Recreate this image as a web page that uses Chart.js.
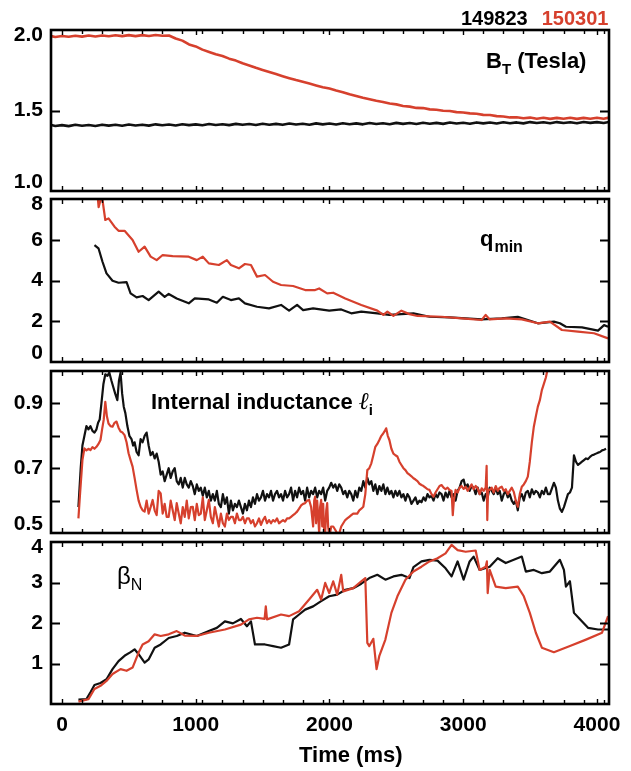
<!DOCTYPE html>
<html>
<head>
<meta charset="utf-8">
<script src="https://cdn.jsdelivr.net/npm/chart.js@4.4.1/dist/chart.umd.min.js"></script>
<style>
  body { margin: 0; background: #fff; }
  #wrap { position: relative; width: 631px; height: 771px; }
  canvas { position: absolute; left: 0; }
</style>
</head>
<body>
<div id="wrap">
  <canvas id="bt" width="631" height="211" style="top:0px"></canvas>
  <canvas id="qmin" width="631" height="203" style="top:179px"></canvas>
  <canvas id="li" width="631" height="202" style="top:351px"></canvas>
  <canvas id="beta" width="631" height="249" style="top:522px"></canvas>
</div>
<script>
const shots = ['149823', '150301'];
const xTickValues = [0, 1000, 2000, 3000, 4000];

// toroidal field
const btTime = [-80, -50, 0, 50, 100, 150, 200, 250, 300, 350, 400, 450, 500, 550, 600, 650, 700, 750, 800, 850, 900, 950, 1000,
  1050, 1100, 1150, 1200, 1250, 1300, 1350, 1400, 1450, 1500, 1550, 1600, 1650, 1700, 1750, 1800, 1850, 1900, 1950, 2000, 2050, 2100,
  2150, 2200, 2250, 2300, 2350, 2400, 2450, 2500, 2550, 2600, 2650, 2700, 2750, 2800, 2850, 2900, 2950, 3000, 3050, 3100, 3150, 3200,
  3250, 3300, 3350, 3400, 3450, 3500, 3550, 3600, 3650, 3700, 3750, 3800, 3850, 3900, 3950, 4000, 4050, 4090];
const bt149823 = [1.410, 1.404, 1.409, 1.403, 1.411, 1.405, 1.410, 1.404, 1.412, 1.406, 1.411, 1.405, 1.413, 1.407, 1.412, 1.406,
  1.414, 1.408, 1.413, 1.407, 1.415, 1.409, 1.414, 1.408, 1.416, 1.410, 1.415, 1.409, 1.417, 1.411, 1.416, 1.410, 1.418, 1.412, 1.417,
  1.411, 1.419, 1.413, 1.418, 1.412, 1.420, 1.414, 1.419, 1.413, 1.421, 1.415, 1.420, 1.414, 1.422, 1.416, 1.421, 1.415, 1.423, 1.417,
  1.422, 1.416, 1.424, 1.418, 1.423, 1.417, 1.425, 1.419, 1.424, 1.418, 1.426, 1.420, 1.425, 1.419, 1.427, 1.421, 1.426, 1.420, 1.428,
  1.422, 1.427, 1.421, 1.428, 1.422, 1.427, 1.421, 1.429, 1.423, 1.428, 1.422, 1.429];
const bt150301 = [1.962, 1.957, 1.963, 1.958, 1.964, 1.959, 1.966, 1.960, 1.966, 1.961, 1.967, 1.962, 1.968, 1.962, 1.968, 1.963,
  1.969, 1.964, 1.966, 1.947, 1.934, 1.910, 1.898, 1.878, 1.864, 1.849, 1.838, 1.822, 1.810, 1.793, 1.780, 1.765, 1.752, 1.739, 1.726,
  1.713, 1.701, 1.689, 1.678, 1.667, 1.656, 1.645, 1.636, 1.624, 1.614, 1.601, 1.590, 1.579, 1.570, 1.560, 1.553, 1.543, 1.538, 1.528,
  1.524, 1.516, 1.515, 1.507, 1.505, 1.498, 1.497, 1.490, 1.488, 1.482, 1.480, 1.473, 1.472, 1.465, 1.463, 1.457, 1.458, 1.452, 1.456,
  1.449, 1.455, 1.448, 1.454, 1.449, 1.455, 1.448, 1.454, 1.449, 1.455, 1.449, 1.456];
const btTicks = [1.5];
const btLabels = [2.0, 1.5, 1.0];

// q_min
const qTime149823 = [243, 273, 303, 333, 378, 423, 483, 513, 558, 603, 648, 723, 768, 798, 858, 948, 993, 1098, 1158, 1203, 1263, 1323,
  1368, 1458, 1548, 1638, 1698, 1758, 1803, 1878, 1998, 2088, 2163, 2238, 2358, 2448, 2628, 2748, 2898, 3018, 3138, 3288, 3408, 3558,
  3678, 3723, 3768, 3888, 4008, 4053, 4083];
const q149823 = [5.74, 5.58, 4.92, 4.35, 3.99, 3.89, 3.92, 3.37, 3.17, 3.24, 3.04, 3.45, 3.20, 3.34, 3.12, 2.88, 3.12, 3.07, 2.91, 3.20,
  3.04, 3.12, 2.88, 2.71, 2.63, 2.80, 2.52, 2.80, 2.55, 2.63, 2.52, 2.58, 2.39, 2.47, 2.39, 2.31, 2.39, 2.22, 2.19, 2.14, 2.09, 2.14,
  2.22, 1.90, 1.98, 1.90, 1.73, 1.70, 1.54, 1.81, 1.73];
const qTime150301 = [250, 262, 274, 290, 303, 324, 348, 393, 423, 468, 528, 573, 618, 663, 708, 753, 828, 948, 1008, 1053, 1098, 1173,
  1233, 1263, 1323, 1368, 1413, 1458, 1518, 1578, 1638, 1728, 1818, 1893, 1923, 1983, 2028, 2118, 2238, 2358, 2403, 2433, 2478, 2538,
  2598, 2658, 2838, 2988, 3138, 3168, 3198, 3318, 3438, 3558, 3648, 3738, 3858, 3978, 4083];
const q150301 = [8.6, 8.5, 7.6, 8.0, 7.95, 6.97, 7.05, 6.64, 6.44, 6.44, 5.99, 5.41, 5.66, 5.17, 5.00, 5.25, 5.20, 5.17, 5.00, 5.17,
  4.84, 4.76, 5.00, 4.76, 4.60, 4.81, 4.76, 4.19, 4.27, 3.94, 3.78, 3.73, 3.53, 3.53, 3.61, 3.37, 3.40, 3.12, 2.80, 2.52, 2.31, 2.47,
  2.26, 2.52, 2.35, 2.26, 2.22, 2.14, 2.06, 2.31, 2.09, 2.14, 2.09, 1.90, 1.98, 1.57, 1.49, 1.41, 1.16];
const qTicks = [2, 4, 6];
const qLabels = [8, 6, 4, 2, 0];

// internal inductance
const liTime149823 = [123, 140, 153, 168, 183, 198, 213, 228, 243, 258, 270, 282, 295, 310, 324, 340, 354, 370, 384, 398, 414, 426,
  438, 450, 462, 474, 489, 504, 520, 532, 543, 558, 573, 588, 603, 618, 633, 648, 663, 678, 693, 708, 723, 738, 753, 768, 783, 798,
  813, 828, 843, 858, 873, 888, 903, 918, 933, 948, 963, 978, 993, 1008, 1023, 1038, 1053, 1068, 1083, 1098, 1113, 1128, 1143, 1158,
  1173, 1188, 1203, 1218, 1233, 1248, 1263, 1278, 1293, 1308, 1323, 1338, 1353, 1368, 1383, 1398, 1413, 1428, 1443, 1458, 1473, 1488,
  1503, 1518, 1533, 1548, 1563, 1578, 1593, 1608, 1623, 1638, 1653, 1668, 1683, 1698, 1713, 1728, 1743, 1758, 1773, 1788, 1803, 1818,
  1833, 1848, 1863, 1878, 1893, 1908, 1923, 1938, 1953, 1968, 1983, 1998, 2013, 2028, 2043, 2058, 2073, 2088, 2103, 2118, 2133, 2148,
  2163, 2178, 2193, 2208, 2223, 2238, 2253, 2268, 2283, 2298, 2313, 2328, 2343, 2358, 2373, 2388, 2403, 2418, 2433, 2448, 2463, 2478,
  2493, 2508, 2523, 2538, 2553, 2568, 2583, 2598, 2613, 2628, 2643, 2658, 2673, 2688, 2703, 2718, 2733, 2748, 2763, 2778, 2793, 2808,
  2823, 2838, 2853, 2868, 2883, 2898, 2913, 2928, 2943, 2958, 2973, 2988, 3003, 3018, 3033, 3048, 3063, 3078, 3093, 3108, 3123, 3138,
  3153, 3168, 3183, 3198, 3213, 3228, 3243, 3258, 3273, 3288, 3303, 3318, 3333, 3348, 3363, 3378, 3393, 3408, 3423, 3438, 3453, 3468,
  3483, 3498, 3513, 3528, 3543, 3558, 3573, 3588, 3603, 3618, 3633, 3648, 3678, 3693, 3708, 3723, 3738, 3753, 3768, 3783, 3798, 3813,
  3828, 3843, 3858, 3873, 3888, 3903, 3918, 3933, 3948, 3963, 3978, 3993, 4008, 4023, 4038, 4053, 4068, 4083];
const li149823 = [0.58, 0.70, 0.77, 0.80, 0.83, 0.82, 0.83, 0.815, 0.81, 0.82, 0.84, 0.85, 0.90, 0.96, 0.99, 0.985, 0.995, 0.97, 0.95,
  0.93, 0.91, 0.97, 0.995, 0.93, 0.89, 0.87, 0.83, 0.80, 0.79, 0.77, 0.78, 0.75, 0.74, 0.79, 0.78, 0.80, 0.81, 0.77, 0.74, 0.75, 0.73,
  0.745, 0.72, 0.68, 0.69, 0.66, 0.68, 0.70, 0.67, 0.69, 0.70, 0.66, 0.65, 0.67, 0.64, 0.67, 0.65, 0.64, 0.66, 0.645, 0.62, 0.65, 0.63,
  0.64, 0.615, 0.64, 0.61, 0.63, 0.60, 0.62, 0.60, 0.63, 0.59, 0.58, 0.62, 0.59, 0.61, 0.56, 0.60, 0.57, 0.59, 0.58, 0.60, 0.58, 0.56,
  0.59, 0.57, 0.60, 0.58, 0.61, 0.59, 0.62, 0.60, 0.61, 0.63, 0.60, 0.62, 0.61, 0.63, 0.60, 0.62, 0.63, 0.61, 0.62, 0.60, 0.63, 0.61,
  0.62, 0.64, 0.60, 0.63, 0.61, 0.64, 0.62, 0.63, 0.60, 0.64, 0.61, 0.63, 0.62, 0.64, 0.61, 0.63, 0.62, 0.64, 0.60, 0.63, 0.64, 0.655,
  0.64, 0.65, 0.63, 0.65, 0.64, 0.62, 0.63, 0.61, 0.63, 0.62, 0.60, 0.63, 0.61, 0.64, 0.63, 0.66, 0.64, 0.67, 0.65, 0.66, 0.63, 0.65,
  0.62, 0.645, 0.63, 0.65, 0.62, 0.64, 0.62, 0.63, 0.61, 0.63, 0.615, 0.63, 0.61, 0.62, 0.60, 0.62, 0.61, 0.59, 0.60, 0.61, 0.59, 0.60,
  0.595, 0.61, 0.60, 0.62, 0.61, 0.615, 0.60, 0.62, 0.61, 0.625, 0.62, 0.60, 0.625, 0.61, 0.63, 0.61, 0.62, 0.60, 0.63, 0.64, 0.66,
  0.665, 0.64, 0.65, 0.63, 0.645, 0.64, 0.62, 0.64, 0.62, 0.625, 0.60, 0.62, 0.61, 0.64, 0.63, 0.62, 0.64, 0.62, 0.63, 0.60, 0.62, 0.63,
  0.61, 0.62, 0.60, 0.59, 0.60, 0.57, 0.61, 0.62, 0.60, 0.625, 0.63, 0.61, 0.635, 0.62, 0.63, 0.625, 0.61, 0.63, 0.62, 0.64, 0.62,
  0.62, 0.655, 0.64, 0.60, 0.575, 0.565, 0.58, 0.60, 0.62, 0.625, 0.64, 0.74, 0.72, 0.71, 0.715, 0.72, 0.725, 0.73, 0.728, 0.735, 0.74,
  0.742, 0.745, 0.748, 0.75, 0.755, 0.757, 0.76];
const liTime150301 = [123, 135, 153, 168, 183, 198, 213, 228, 243, 258, 273, 288, 300, 312, 324, 336, 348, 363, 378, 393, 408, 423,
  438, 453, 468, 483, 498, 513, 528, 543, 558, 573, 588, 603, 618, 633, 648, 663, 678, 693, 708, 723, 738, 753, 768, 783, 798, 813,
  828, 843, 858, 873, 888, 903, 918, 933, 948, 963, 978, 993, 1008, 1023, 1038, 1053, 1068, 1083, 1098, 1113, 1128, 1143, 1158, 1173,
  1188, 1203, 1218, 1233, 1248, 1263, 1278, 1293, 1308, 1323, 1338, 1353, 1368, 1383, 1398, 1413, 1428, 1443, 1458, 1473, 1488, 1503,
  1518, 1533, 1548, 1563, 1578, 1593, 1608, 1623, 1638, 1653, 1668, 1683, 1698, 1713, 1728, 1743, 1758, 1773, 1788, 1803, 1818, 1833,
  1848, 1863, 1878, 1886, 1893, 1900, 1908, 1916, 1923, 1930, 1938, 1946, 1953, 1960, 1968, 1976, 1983, 1990, 1997, 2004, 2013, 2028,
  2043, 2058, 2073, 2088, 2103, 2118, 2133, 2148, 2163, 2178, 2193, 2208, 2223, 2238, 2253, 2268, 2283, 2298, 2313, 2328, 2343, 2358,
  2373, 2388, 2403, 2414, 2424, 2436, 2448, 2463, 2478, 2493, 2508, 2523, 2538, 2553, 2568, 2583, 2598, 2613, 2628, 2643, 2658, 2673,
  2688, 2703, 2718, 2733, 2748, 2763, 2778, 2793, 2808, 2823, 2838, 2853, 2868, 2883, 2898, 2913, 2922, 2930, 2943, 2958, 2973, 2988,
  3003, 3018, 3033, 3048, 3063, 3078, 3093, 3108, 3123, 3138, 3153, 3168, 3175, 3180, 3186, 3198, 3213, 3228, 3243, 3258, 3273, 3288,
  3303, 3318, 3333, 3348, 3363, 3378, 3393, 3408, 3423, 3438, 3453, 3468, 3483, 3498, 3513, 3528, 3543, 3558, 3573, 3588, 3603, 3618,
  3633];
const li150301 = [0.545, 0.62, 0.725, 0.761, 0.755, 0.76, 0.756, 0.765, 0.76, 0.766, 0.775, 0.787, 0.82, 0.849, 0.905, 0.86, 0.838,
  0.83, 0.828, 0.84, 0.844, 0.825, 0.813, 0.81, 0.802, 0.78, 0.746, 0.725, 0.705, 0.67, 0.633, 0.60, 0.581, 0.57, 0.566, 0.60, 0.56,
  0.58, 0.602, 0.57, 0.555, 0.63, 0.622, 0.56, 0.59, 0.55, 0.55, 0.60, 0.57, 0.54, 0.592, 0.56, 0.53, 0.58, 0.55, 0.60, 0.545, 0.58,
  0.581, 0.54, 0.59, 0.555, 0.56, 0.61, 0.54, 0.57, 0.602, 0.55, 0.53, 0.58, 0.55, 0.52, 0.56, 0.53, 0.52, 0.56, 0.54, 0.55, 0.55,
  0.53, 0.56, 0.54, 0.54, 0.55, 0.53, 0.545, 0.545, 0.53, 0.54, 0.52, 0.53, 0.545, 0.525, 0.54, 0.55, 0.53, 0.54, 0.53, 0.54, 0.535,
  0.545, 0.53, 0.535, 0.54, 0.535, 0.545, 0.545, 0.55, 0.555, 0.56, 0.566, 0.575, 0.585, 0.59, 0.592, 0.60, 0.602, 0.58, 0.52, 0.60,
  0.612, 0.53, 0.60, 0.55, 0.499, 0.58, 0.602, 0.52, 0.59, 0.51, 0.499, 0.57, 0.592, 0.52, 0.499, 0.499, 0.52, 0.52, 0.51, 0.499,
  0.499, 0.52, 0.53, 0.54, 0.545, 0.55, 0.555, 0.56, 0.56, 0.56, 0.57, 0.575, 0.581, 0.62, 0.694, 0.70, 0.715, 0.74, 0.766, 0.775,
  0.787, 0.80, 0.808, 0.815, 0.823, 0.80, 0.787, 0.76, 0.745, 0.74, 0.736, 0.72, 0.71, 0.70, 0.694, 0.685, 0.68, 0.675, 0.669, 0.665,
  0.66, 0.652, 0.648, 0.645, 0.64, 0.635, 0.633, 0.62, 0.612, 0.625, 0.635, 0.645, 0.648, 0.64, 0.635, 0.64, 0.633, 0.63, 0.555, 0.60,
  0.633, 0.625, 0.64, 0.645, 0.636, 0.643, 0.63, 0.64, 0.65, 0.635, 0.645, 0.638, 0.62, 0.638, 0.63, 0.64, 0.707, 0.54, 0.633, 0.633,
  0.64, 0.625, 0.645, 0.63, 0.64, 0.643, 0.63, 0.635, 0.62, 0.63, 0.64, 0.627, 0.60, 0.581, 0.62, 0.643, 0.65, 0.66, 0.674, 0.72,
  0.78, 0.828, 0.86, 0.89, 0.91, 0.941, 0.96, 0.98, 1.01];
const liTicks = [0.6, 0.7, 0.8, 0.9];
const liLabels = [0.9, 0.7, 0.5];

// normalised beta
const betaTime149823 = [123, 183, 213, 243, 288, 333, 378, 423, 468, 513, 543, 573, 618, 648, 693, 738, 798, 858, 918, 1008, 1098,
  1158, 1218, 1278, 1338, 1383, 1413, 1443, 1518, 1578, 1638, 1698, 1728, 1773, 1818, 1878, 1938, 1998, 2058, 2118, 2178, 2238, 2298,
  2358, 2418, 2478, 2538, 2598, 2628, 2688, 2748, 2808, 2868, 2913, 2958, 3003, 3048, 3078, 3123, 3198, 3258, 3318, 3378, 3438, 3468,
  3528, 3588, 3648, 3723, 3753, 3768, 3798, 3828, 3873, 3933, 4008, 4083];
const beta149823 = [0.11, 0.12, 0.29, 0.47, 0.52, 0.61, 0.86, 1.06, 1.19, 1.28, 1.35, 1.23, 1.02, 1.10, 1.39, 1.47, 1.63, 1.68, 1.76,
  1.68, 1.80, 1.88, 2.04, 1.99, 2.10, 1.92, 2.04, 1.47, 1.47, 1.43, 1.39, 1.47, 2.09, 2.21, 2.33, 2.41, 2.54, 2.66, 2.70, 2.82, 2.86,
  2.97, 3.11, 3.19, 3.07, 3.15, 3.19, 3.11, 3.38, 3.52, 3.56, 3.54, 3.35, 3.15, 3.52, 3.07, 3.52, 3.64, 3.31, 3.39, 3.60, 3.48, 3.56,
  3.64, 3.27, 3.31, 3.23, 3.27, 3.56, 3.31, 2.90, 3.03, 2.25, 2.09, 1.88, 1.84, 1.84];
const betaTime150301 = [123, 198, 243, 288, 333, 378, 438, 483, 528, 573, 603, 648, 693, 738, 798, 858, 918, 1008, 1098, 1218, 1338,
  1398, 1458, 1515, 1524, 1533, 1638, 1698, 1773, 1848, 1908, 1938, 1968, 1998, 2028, 2058, 2088, 2103, 2178, 2238, 2268, 2283, 2298,
  2328, 2352, 2373, 2418, 2463, 2508, 2568, 2628, 2688, 2748, 2808, 2868, 2913, 2958, 3018, 3093, 3123, 3168, 3177, 3183, 3198, 3243,
  3318, 3408, 3453, 3498, 3543, 3588, 3678, 3798, 3918, 4038, 4083];
const beta150301 = [0.06, 0.12, 0.37, 0.45, 0.57, 0.74, 0.86, 0.82, 0.90, 1.27, 1.47, 1.55, 1.72, 1.68, 1.72, 1.80, 1.69, 1.68, 1.76,
  1.84, 1.96, 2.09, 2.13, 2.10, 2.41, 2.09, 2.21, 2.17, 2.29, 2.58, 2.82, 2.58, 2.99, 2.74, 3.03, 2.70, 3.19, 2.78, 2.86, 3.03, 3.11,
  1.51, 1.43, 1.61, 0.86, 1.19, 1.59, 2.25, 2.66, 3.07, 3.27, 3.39, 3.52, 3.60, 3.72, 3.93, 3.80, 3.76, 3.79, 3.31, 3.39, 3.52, 2.74,
  3.31, 2.90, 2.86, 2.90, 2.66, 2.25, 1.76, 1.39, 1.28, 1.43, 1.59, 1.76, 2.17];
const betaTicks = [1, 2, 3];
const betaLabels = [4, 3, 2, 1];

const black = '#111111';
const red = '#d6402d';
const fontFamily = '"Liberation Sans", Arial, sans-serif';

function points(times, values) {
  return times.map((t, i) => ({ x: t, y: values[i] }));
}

// box, inward ticks, y labels and panel captions
const panelFrame = {
  id: 'panelFrame',
  afterDatasetsDraw(chart, args, opts) {
    const { ctx, chartArea: a } = chart;
    const xs = chart.scales.x, ys = chart.scales.y;
    ctx.save();
    ctx.strokeStyle = '#000';
    ctx.lineWidth = 1.4;
    ctx.beginPath();
    for (let t = 0; t <= 4050; t += 150) {
      const px = Math.round(xs.getPixelForValue(t)) + 0.5;
      ctx.moveTo(px, a.bottom); ctx.lineTo(px, a.bottom - 4);
      ctx.moveTo(px, a.top); ctx.lineTo(px, a.top + 4);
    }
    xTickValues.forEach(t => {
      const px = Math.round(xs.getPixelForValue(t)) + 0.5;
      ctx.moveTo(px, a.bottom); ctx.lineTo(px, a.bottom - 5);
      ctx.moveTo(px, a.top); ctx.lineTo(px, a.top + 5);
    });
    ctx.stroke();
    ctx.lineWidth = 2;
    ctx.beginPath();
    opts.ticks.forEach(v => {
      const py = Math.round(ys.getPixelForValue(v)) + 0.5;
      ctx.moveTo(a.left, py); ctx.lineTo(a.left + 9, py);
      ctx.moveTo(a.right, py); ctx.lineTo(a.right - 9, py);
    });
    ctx.stroke();
    ctx.lineWidth = 2.6;
    ctx.strokeRect(a.left, a.top, a.right - a.left, a.bottom - a.top);

    ctx.fillStyle = '#000';
    ctx.font = 'bold 21px ' + fontFamily;
    ctx.textAlign = 'right';
    ctx.textBaseline = 'middle';
    opts.labels.forEach(v => {
      const py = Math.min(Math.max(ys.getPixelForValue(v), a.top + 5), a.bottom - 9);
      ctx.fillText(opts.format(v), a.left - 8, py);
    });

    ctx.textAlign = 'left';
    ctx.textBaseline = 'alphabetic';
    (opts.captions || []).forEach(c => {
      let x = c.x;
      c.runs.forEach(r => {
        ctx.font = r.font;
        ctx.fillStyle = r.color || '#000';
        ctx.fillText(r.text, x, c.y - opts.top + (r.dy || 0));
        x += ctx.measureText(r.text).width + (r.gap || 0);
      });
    });
    ctx.restore();
  }
};

function makePanel(id, cfg) {
  const showX = !!cfg.showX;
  return new Chart(document.getElementById(id), {
    type: 'line',
    data: {
      datasets: [
        { label: shots[0], data: cfg.black, borderColor: black, borderWidth: cfg.width, order: 1 },
        { label: shots[1], data: cfg.red, borderColor: red, borderWidth: cfg.width, order: 0 }
      ]
    },
    options: {
      responsive: false,
      animation: false,
      parsing: false,
      normalized: true,
      datasets: { line: { pointRadius: 0, tension: 0, clip: 0, borderJoinStyle: 'round' } },
      layout: { padding: { left: 51, right: 22, top: cfg.padTop, bottom: showX ? 0 : 20 } },
      scales: {
        x: {
          type: 'linear', min: -82, max: 4090,
          display: showX,
          grid: { display: false, drawTicks: false },
          border: { display: false },
          afterBuildTicks: s => { s.ticks = xTickValues.map(v => ({ value: v })); },
          afterFit: s => { s.height = showX ? 67 : 0; },
          ticks: {
            color: '#000', padding: 9, maxRotation: 0,
            font: { family: fontFamily, size: 21, weight: 'bold' },
            callback: v => String(v)
          }
        },
        y: { type: 'linear', min: cfg.min, max: cfg.max, display: false }
      },
      plugins: {
        legend: { display: false },
        tooltip: { enabled: false },
        panelFrame: {
          ticks: cfg.ticks, labels: cfg.labels, format: cfg.format,
          top: cfg.top, captions: cfg.captions
        }
      }
    },
    plugins: [panelFrame]
  });
}

const capFont = 'bold 22px ' + fontFamily;
const subFont = 'bold 15px ' + fontFamily;

makePanel('bt', {
  black: points(btTime, bt149823), red: points(btTime, bt150301), width: 2.6,
  min: 1.0, max: 2.0, ticks: btTicks, labels: btLabels, format: v => v.toFixed(1),
  top: 0, padTop: 30,
  captions: [
    { x: 461, y: 25, runs: [
      { text: shots[0], font: 'bold 20px ' + fontFamily, gap: 14 },
      { text: shots[1], font: 'bold 20px ' + fontFamily, color: red }
    ] },
    { x: 486, y: 68, runs: [
      { text: 'B', font: capFont },
      { text: 'T', font: subFont, dy: 6 },
      { text: ' (Tesla)', font: capFont }
    ] }
  ]
});

makePanel('qmin', {
  black: points(qTime149823, q149823), red: points(qTime150301, q150301), width: 2.2,
  min: 0, max: 8, ticks: qTicks, labels: qLabels, format: v => String(v),
  top: 179, padTop: 20,
  captions: [
    { x: 480, y: 246, runs: [
      { text: 'q', font: capFont, gap: 1 },
      { text: 'min', font: 'bold 16px ' + fontFamily, dy: 6 }
    ] }
  ]
});

makePanel('li', {
  black: points(liTime149823, li149823), red: points(liTime150301, li150301), width: 2.2,
  min: 0.5, max: 1.0, ticks: liTicks, labels: liLabels, format: v => v.toFixed(1),
  top: 351, padTop: 20,
  captions: [
    { x: 151, y: 409, runs: [
      { text: 'Internal inductance ', font: capFont },
      { text: '\u2113', font: 'italic 24px "DejaVu Serif", serif' },
      { text: 'i', font: subFont, dy: 6 }
    ] }
  ]
});

makePanel('beta', {
  black: points(betaTime149823, beta149823), red: points(betaTime150301, beta150301), width: 2.2,
  min: 0, max: 4, ticks: betaTicks, labels: betaLabels, format: v => String(v),
  top: 522, padTop: 20, showX: true,
  captions: [
    { x: 117, y: 584, runs: [
      { text: '\u03b2', font: '24px ' + fontFamily },
      { text: 'N', font: '16px ' + fontFamily, dy: 6 }
    ] },
    { x: 299, y: 762, runs: [
      { text: 'Time (ms)', font: capFont }
    ] }
  ]
});
</script>
</body>
</html>
